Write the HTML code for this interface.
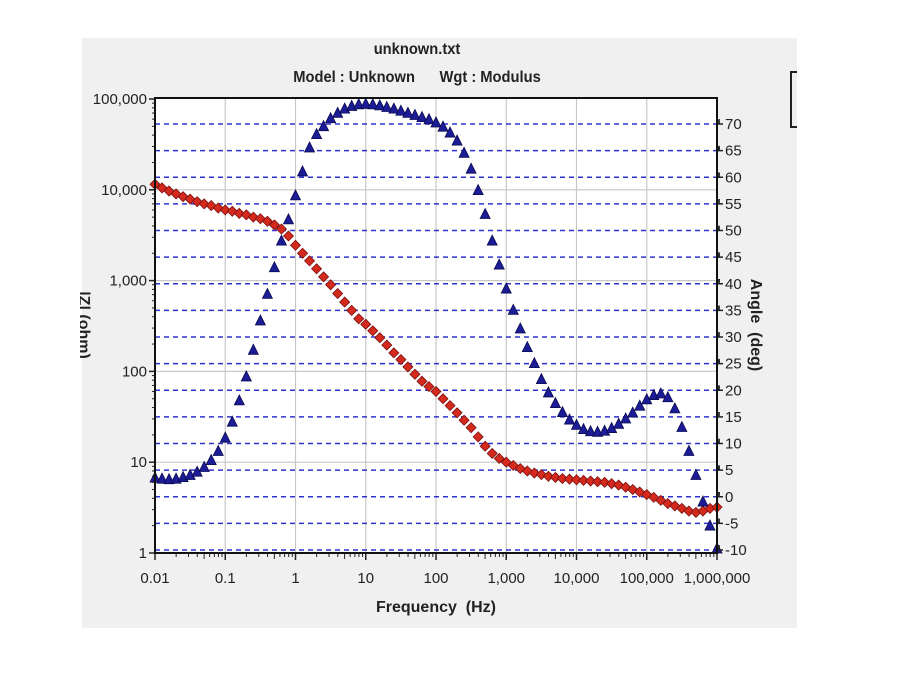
<!DOCTYPE html>
<html><head><meta charset="utf-8"><style>
body{margin:0;background:#fff;width:900px;height:675px;overflow:hidden}
svg{display:block}
text{font-family:"Liberation Sans",Arial,sans-serif}
</style></head><body>
<svg id="chart" width="900" height="675" xmlns="http://www.w3.org/2000/svg">
<rect x="82" y="38" width="715" height="590" fill="#f0f0f0"/>
<path d="M797 72 H791 V127 H797" fill="none" stroke="#222" stroke-width="2"/>
<text x="417" y="54" text-anchor="middle" font-size="16" font-weight="bold" fill="#222" transform="translate(417,0) scale(0.92,1) translate(-417,0)">unknown.txt</text>
<text x="417" y="82" text-anchor="middle" font-size="16" font-weight="bold" fill="#222" xml:space="preserve" transform="translate(417,0) scale(0.92,1) translate(-417,0)">Model : Unknown      Wgt : Modulus</text>
<rect x="155" y="98" width="562" height="455" fill="#fff"/>
<g id="grid"></g><g id="series"></g><g id="axes"></g>
<text x="436" y="612" text-anchor="middle" font-size="16" font-weight="bold" fill="#222" xml:space="preserve">Frequency  (Hz)</text>
<text transform="translate(751,325) rotate(90)" text-anchor="middle" font-size="16" font-weight="bold" fill="#222" xml:space="preserve">Angle  (deg)</text>
<text transform="translate(79,325) rotate(90)" text-anchor="middle" font-size="16" font-weight="bold" fill="#222">|Z| (ohm)</text>
<rect x="60" y="280" width="20" height="100" fill="#fff"/>
</svg>
<script>
const xExponentStart = -2;
const pointsPerDecade = 10;
const impedanceValues = [11500,10500,9700,9000,8400,7900,7400,7000,6700,6300,
6000,5800,5500,5300,5000,4800,4500,4100,3700,3100,
2450,2000,1650,1350,1100,900,720,580,470,380,
330,280,235,195,160,135,112,93,78,68,
60,50,42,35,29,24,19,15,12.5,11,
10,9.2,8.5,8.0,7.6,7.3,7.0,6.8,6.6,6.5,
6.4,6.3,6.2,6.1,6.0,5.8,5.6,5.3,5.0,4.7,
4.4,4.1,3.8,3.5,3.3,3.1,2.9,2.8,2.9,3.1,3.2];
const angleValues = [3.5,3.3,3.2,3.3,3.6,4.0,4.6,5.5,6.8,8.5,
11,14,18,22.5,27.5,33,38,43,48,52,
56.5,61,65.5,68,69.5,71,72,72.8,73.3,73.6,
73.7,73.6,73.4,73.1,72.8,72.4,72,71.6,71.2,70.8,
70.2,69.4,68.3,66.8,64.5,61.5,57.5,53,48,43.5,
39,35,31.5,28,25,22,19.5,17.5,15.8,14.4,
13.4,12.6,12.2,12.1,12.3,12.8,13.6,14.6,15.7,17,
18.2,19.0,19.3,18.6,16.5,13,8.5,4,-1,-5.5,-9.8];
const xTickLabels = ["0.01","0.1","1","10","100","1,000","10,000","100,000","1,000,000"];
const yTickLabels = ["1","10","100","1,000","10,000","100,000"];
const angleTicks = [-10,-5,0,5,10,15,20,25,30,35,40,45,50,55,60,65,70];

const L=155,R=717,T=98,B=553;
const xs = e => L + (e + 2) * (R - L) / 8;
const ys = v => B - Math.log10(v) * 90.8;
const ya = a => 550 - (a + 10) * 26.625 / 5;
const NS="http://www.w3.org/2000/svg";
function mk(tag, attrs, parent){const el=document.createElementNS(NS,tag);for(const k in attrs)el.setAttribute(k,attrs[k]);parent.appendChild(el);return el;}
const grid=document.getElementById('grid'),series=document.getElementById('series'),axes=document.getElementById('axes');

xTickLabels.forEach((lab,i)=>{
  const x=xs(i-2);
  if(i>0&&i<8){const g=mk('line',{x1:x,x2:x,y1:T,y2:B,stroke:'#c8c8c8','stroke-width':1.2},grid);
  
  }
  const t=mk('text',{x:x,y:B+30,'text-anchor':'middle','font-size':15,fill:'#222'},axes);t.textContent=lab;
  
  
  if(i<8){for(let m=2;m<10;m++){const mx=x+Math.log10(m)*(R-L)/8;mk('line',{x1:mx,x2:mx,y1:B,y2:B+(m==5?6:4),stroke:'#222'},axes);}}
  mk('line',{x1:x,x2:x,y1:B,y2:B+7,stroke:'#222','stroke-width':1.5},axes);
});
yTickLabels.forEach((lab,i)=>{
  const y=ys(Math.pow(10,i));
  if(i>0&&i<5){const g=mk('line',{x1:L,x2:R,y1:y,y2:y,stroke:'#c8c8c8','stroke-width':1.2},grid);
  
  }
  const t=mk('text',{x:L-8,y:y+5,'text-anchor':'end','font-size':15,fill:'#222'},axes);t.textContent=lab;
  
  
  mk('line',{x1:L-6,x2:L,y1:y,y2:y,stroke:'#222','stroke-width':1.5},axes);
  if(i<5){for(let m=2;m<10;m++){const my=y-Math.log10(m)*90.8;mk('line',{x1:L-3,x2:L,y1:my,y2:my,stroke:'#222'},axes);}}
});
angleTicks.forEach(a=>{
  const y=ya(a);
  const g=mk('line',{x1:L,x2:R,y1:y,y2:y,stroke:'#3030d0','stroke-width':1.6,'stroke-dasharray':'5 4'},grid);
  
  
  mk('line',{x1:R,x2:R+6,y1:y,y2:y,stroke:'#222','stroke-width':1.5},axes);
  for(let m=1;m<5;m++){const my=y-m*26.625/25;if(my>T)mk('line',{x1:R,x2:R+3,y1:my,y2:my,stroke:'#222'},axes);}
  const t=mk('text',{x:R+8,y:y+5,'font-size':15,fill:'#222'},axes);t.textContent=String(a);
  
  
});
const frame=mk('rect',{x:L,y:T,width:R-L,height:B-T,fill:'none',stroke:'#111','stroke-width':2},axes);



impedanceValues.forEach((v,i)=>{
  const x=xs(xExponentStart+i/pointsPerDecade),y=ys(v);
  const d=mk('path',{d:`M${x} ${y-5}L${x+5} ${y}L${x} ${y+5}L${x-5} ${y}Z`,fill:'#d42a1e',stroke:'#7a1010','stroke-width':0.8},series);
  
  
});
angleValues.forEach((a,i)=>{
  const x=xs(xExponentStart+i/pointsPerDecade),y=ya(a);
  const t=mk('path',{d:`M${x} ${y-6}L${x+5} ${y+4}L${x-5} ${y+4}Z`,fill:'#1c1c96',stroke:'#0a0a50','stroke-width':0.8},series);
  
  
});
</script>
</body></html>
